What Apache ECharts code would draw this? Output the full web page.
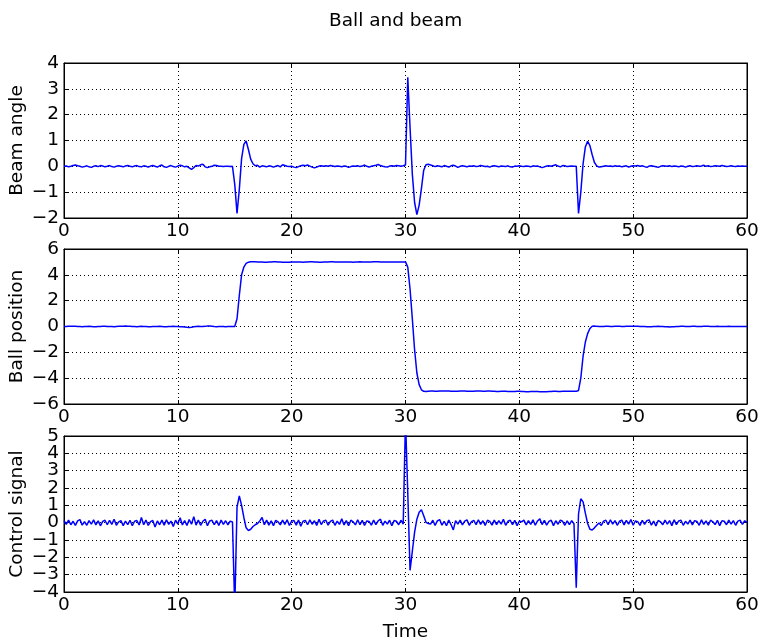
<!DOCTYPE html>
<html>
<head>
<meta charset="utf-8">
<script src="https://cdn.jsdelivr.net/npm/echarts@6/dist/echarts.min.js"></script>
<style>
html,body{margin:0;padding:0;background:#fff;}
#chart{width:760px;height:642px;}
</style>
</head>
<body>
<div id="chart"></div>
<script>
// Sampling step of the recorded signals (seconds)
const timeStep = 0.2;

const chartTitle = "Ball and beam";
const xLabel = "Time";
const yLabels = ["Beam angle", "Ball position", "Control signal"];
const xTicks = [0, 10, 20, 30, 40, 50, 60];
const beamTicks = [-2, -1, 0, 1, 2, 3, 4];
const ballTicks = [-6, -4, -2, 0, 2, 4, 6];
const ctrlTicks = [-4, -3, -2, -1, 0, 1, 2, 3, 4, 5];

// Beam angle, t = 0 .. 60 every 0.2 s
const beamAngle = [
 0.00,0.01,-0.02,0.00,0.03,0.05,0.02,0.00,-0.03,-0.01,
 0.02,-0.02,-0.04,0.00,0.02,-0.01,0.03,0.01,-0.02,0.00,
 0.03,-0.01,-0.03,0.00,0.02,0.00,-0.02,0.01,0.03,0.00,
 -0.02,0.01,0.03,-0.01,-0.02,0.02,0.00,-0.03,0.01,0.03,
 0.00,-0.03,0.02,0.05,-0.02,-0.04,0.00,0.03,-0.01,-0.03,
 0.01,0.04,0.02,-0.02,0.00,-0.06,-0.12,-0.05,0.03,0.01,
 0.06,0.08,-0.02,-0.05,-0.02,0.00,0.04,0.03,0.00,0.00,
 -0.01,0.00,0.00,-0.01,0.00,
 -0.70,-1.82,-0.90,0.30,0.85,0.98,0.65,0.28,0.10,0.02,0.04,
 -0.03,0.02,0.00,-0.02,0.02,0.00,-0.03,0.00,0.03,-0.02,
 0.06,0.03,0.00,-0.01,0.00,-0.03,-0.05,-0.01,0.02,0.04,
 0.02,0.05,0.01,-0.03,-0.06,-0.03,0.01,0.02,0.00,0.02,
 0.00,0.03,0.01,-0.01,0.01,0.00,-0.02,0.01,0.00,-0.04,
 -0.01,0.01,0.00,0.02,-0.01,0.01,0.05,0.00,-0.03,0.00,
 0.02,0.04,0.07,0.03,0.00,-0.02,-0.03,0.01,0.02,0.00,
 0.03,0.02,0.00,0.02,
 0.05,3.45,1.50,-0.30,-1.40,-1.87,-1.50,-0.85,-0.15,0.06,0.08,
 0.05,0.02,-0.01,0.02,0.00,-0.02,0.03,0.00,-0.03,0.02,
 0.04,0.01,-0.04,0.00,0.02,0.00,-0.02,0.01,0.00,0.02,
 -0.01,0.00,0.03,0.01,-0.01,0.00,-0.03,0.01,0.02,0.00,
 -0.02,0.01,0.00,-0.01,0.02,-0.02,-0.03,0.01,0.00,0.02,
 0.00,-0.01,0.01,0.00,-0.02,0.02,0.00,0.01,-0.02,-0.05,
 -0.02,0.01,0.02,0.00,0.03,0.06,0.01,-0.02,0.03,0.02,
 -0.01,0.00,0.01,0.00,
 0.00,-1.82,-1.00,0.10,0.75,0.97,0.80,0.45,0.15,0.02,-0.03,
 -0.02,0.00,0.02,0.00,0.01,-0.01,0.02,0.00,0.01,-0.02,
 0.00,0.02,-0.03,0.00,0.02,0.01,0.03,0.00,0.02,-0.01,
 -0.04,0.01,0.02,0.00,-0.02,-0.04,0.00,0.02,0.01,0.00,
 0.02,-0.01,0.01,0.00,-0.02,0.01,0.00,-0.03,0.00,0.02,
 -0.01,0.00,0.02,0.00,0.01,0.04,0.00,0.02,-0.01,0.00,
 0.02,0.01,0.00,0.03,0.01,-0.01,0.00,0.02,0.00,-0.01,
 0.01,0.00,0.01,0.00,0.00
];

// Ball position, t = 0 .. 60 every 0.2 s
const ballPosition = [
 0.00,0.00,0.01,0.01,0.02,0.01,0.00,0.00,-0.01,0.00,
 0.00,0.01,0.00,-0.01,-0.01,0.00,0.00,0.01,0.01,0.00,
 0.00,0.00,-0.01,0.00,0.01,0.02,0.02,0.03,0.02,0.01,
 0.00,0.00,-0.01,0.00,0.01,0.00,0.00,-0.01,-0.01,0.00,
 0.00,0.00,0.01,0.00,-0.01,-0.01,0.00,0.00,0.01,0.00,
 0.00,-0.01,-0.02,-0.04,-0.06,-0.07,-0.05,-0.02,0.00,0.01,
 0.00,0.00,0.01,0.03,0.04,0.02,0.00,-0.01,0.00,0.00,
 0.00,-0.01,0.00,0.00,0.00,
 0.00,0.60,2.40,4.00,4.60,4.88,4.98,5.01,5.02,5.01,5.00,
 5.00,4.99,4.98,4.98,4.99,5.00,5.01,5.01,5.00,4.99,
 4.98,4.97,4.97,4.98,4.99,5.00,5.00,5.00,4.99,4.98,
 4.99,5.00,5.01,5.01,5.00,4.99,4.98,4.98,4.99,5.00,
 5.00,5.01,5.01,5.00,5.00,4.99,4.99,5.00,5.00,5.00,
 4.99,4.98,4.99,5.00,5.01,5.00,5.00,4.99,4.99,5.00,
 5.01,5.02,5.01,5.00,4.99,4.99,5.00,5.00,5.00,5.00,
 4.99,4.99,5.00,5.00,
 5.00,4.60,2.90,0.60,-1.80,-3.60,-4.50,-4.90,-5.02,-5.03,-5.01,
 -5.00,-5.00,-5.01,-5.01,-5.00,-4.99,-4.99,-5.00,-5.00,-5.01,
 -5.02,-5.02,-5.01,-5.00,-5.00,-5.00,-5.01,-5.02,-5.02,-5.01,
 -5.00,-5.00,-5.00,-5.01,-5.01,-5.00,-5.00,-5.01,-5.02,-5.03,
 -5.03,-5.02,-5.02,-5.02,-5.03,-5.04,-5.04,-5.03,-5.02,-5.02,
 -5.03,-5.04,-5.05,-5.05,-5.04,-5.03,-5.03,-5.04,-5.05,-5.06,
 -5.06,-5.05,-5.04,-5.03,-5.02,-5.02,-5.03,-5.03,-5.02,-5.02,
 -5.02,-5.02,-5.02,-5.01,
 -5.02,-4.95,-4.00,-2.30,-1.20,-0.55,-0.15,0.02,0.03,0.01,0.00,
 0.00,0.00,0.01,0.01,0.00,0.00,0.01,0.01,0.01,0.00,
 0.00,0.01,0.01,0.02,0.02,0.01,0.01,0.00,0.00,0.00,
 -0.01,-0.02,-0.01,0.00,0.00,0.01,0.00,0.00,-0.01,-0.02,
 -0.03,-0.02,-0.01,0.00,0.00,0.01,0.01,0.00,0.00,0.00,
 0.01,0.01,0.00,0.00,0.00,0.01,0.01,0.01,0.00,0.00,
 0.00,0.01,0.00,0.00,0.00,0.00,0.01,0.00,0.00,0.00,
 0.00,0.00,0.00,0.00,0.00
];

// Control signal, t = 0 .. 60 every 0.2 s (spikes run past the axis limits)
const controlSignal = [
 0.12,-0.10,0.15,-0.12,0.08,-0.16,0.10,0.18,-0.14,0.06,
 -0.15,0.12,-0.09,0.16,-0.13,0.10,-0.18,0.07,0.14,-0.12,
 0.13,-0.10,0.20,-0.15,0.05,0.12,-0.17,0.09,-0.11,0.14,
 -0.18,0.08,0.12,-0.13,0.30,-0.12,0.15,-0.16,0.06,0.13,
 -0.25,0.10,-0.12,0.15,-0.14,0.17,-0.10,0.09,-0.22,0.14,
 -0.08,0.28,-0.13,0.12,-0.16,0.18,-0.09,0.35,-0.14,0.15,
 -0.15,0.08,0.20,-0.18,0.10,0.14,-0.12,0.12,-0.16,0.15,
 -0.10,0.11,-0.13,0.09,0.04,
 -5.00,0.90,1.55,1.00,0.30,-0.30,-0.45,-0.38,-0.22,-0.12,-0.05,
 0.10,0.30,-0.12,0.15,-0.14,0.10,-0.17,0.13,0.05,-0.13,
 0.15,-0.10,0.17,-0.16,0.09,0.12,-0.14,0.15,-0.20,0.08,
 0.13,-0.12,0.16,-0.09,0.11,-0.16,0.19,-0.11,0.10,0.14,
 -0.14,0.07,0.15,-0.15,0.09,-0.10,0.22,-0.13,0.12,-0.17,
 0.14,0.05,-0.13,0.17,-0.12,0.13,-0.16,0.10,0.07,-0.14,
 0.15,-0.11,0.11,0.20,-0.15,0.09,-0.08,0.14,-0.18,0.12,
 0.08,-0.12,0.14,-0.08,
 6.00,1.70,-2.75,-1.65,-0.55,0.20,0.60,0.75,0.40,0.02,-0.05,
 -0.08,0.14,-0.16,0.10,0.18,-0.14,0.08,-0.18,0.15,-0.11,
 -0.42,0.12,-0.09,0.15,-0.13,0.09,0.16,-0.15,0.06,0.13,
 -0.12,0.17,-0.10,0.11,-0.16,0.14,0.07,-0.14,0.15,-0.11,
 0.12,-0.08,0.19,-0.15,0.08,0.14,-0.12,0.13,-0.18,0.09,
 0.05,0.15,-0.13,0.12,-0.10,0.16,-0.15,0.10,0.22,-0.11,
 0.13,-0.14,0.07,0.14,-0.17,0.11,-0.09,0.14,0.08,-0.15,
 0.10,-0.11,0.12,-0.06,
 -3.75,0.50,1.38,1.20,0.55,-0.05,-0.38,-0.42,-0.30,-0.15,-0.02,
 -0.16,0.09,0.14,-0.12,0.17,-0.09,0.12,-0.15,0.08,0.15,
 -0.13,0.13,-0.08,0.18,-0.15,0.10,0.06,-0.16,0.14,-0.10,
 0.11,0.16,-0.14,0.09,-0.19,0.13,0.05,-0.12,0.15,-0.09,
 0.12,-0.17,0.17,-0.11,0.10,0.14,-0.15,0.08,-0.08,0.15,
 -0.13,0.12,0.07,-0.15,0.16,-0.10,0.10,-0.14,0.14,0.05,
 -0.11,0.13,-0.18,0.11,0.08,-0.12,0.15,-0.09,0.12,-0.15,
 0.09,0.14,-0.10,0.11,0.02
];

const FONT = "DejaVu Sans";
const FS = 18.5;
const minus = v => (v < 0 ? "\u2212" + Math.abs(v) : String(v));
const toPairs = arr => arr.map((v, i) => [+(i * timeStep).toFixed(2), v]);

const grids = [
  { left: 64, width: 683, top: 63, height: 155 },
  { left: 64, width: 683, top: 249, height: 155 },
  { left: 64, width: 683, top: 436, height: 156 }
];
const yRanges = [beamTicks, ballTicks, ctrlTicks];
const seriesData = [beamAngle, ballPosition, controlSignal];

const labelStyle = { color: "#000", fontFamily: FONT, fontSize: FS };
const xAxes = [], yAxes = [], series = [];
grids.forEach((g, k) => {
  const common = {
    type: "value", gridIndex: k,
    axisLine: { show: true, onZero: false, lineStyle: { color: "#000", width: 1 } },
    axisTick: { show: true, inside: true, length: 4, lineStyle: { color: "#000" } }
  };
  const xIdx = xAxes.length;
  xAxes.push(Object.assign({}, common, {
    position: "bottom",
    min: xTicks[0], max: xTicks[xTicks.length - 1], interval: 10,
    axisLabel: Object.assign({ show: true, hideOverlap: false, margin: 4, formatter: minus }, labelStyle),
    splitLine: { show: true, lineStyle: { color: "#000", width: 1, type: [1, 3] } },
    name: k === 2 ? xLabel : "", nameLocation: "middle", nameGap: 31, nameMoveOverlap: false,
    nameTextStyle: labelStyle
  }));
  xAxes.push(Object.assign({}, common, {
    position: "top",
    min: xTicks[0], max: xTicks[xTicks.length - 1], interval: 10,
    axisLabel: { show: false }, splitLine: { show: false }
  }));
  const yt = yRanges[k];
  const step = yt[1] - yt[0];
  // tick labels split over two coincident left axes so that none get dropped
  const evenVals = yt.filter((v, i) => i % 2 === 0);
  const oddVals = yt.filter((v, i) => i % 2 === 1);
  const yIdx = yAxes.length;
  yAxes.push(Object.assign({}, common, {
    position: "left",
    min: yt[0], max: yt[yt.length - 1], interval: step,
    axisLabel: Object.assign({ show: true, hideOverlap: false, margin: 5, formatter: minus, customValues: evenVals }, labelStyle),
    splitLine: { show: true, lineStyle: { color: "#000", width: 1, type: [1, 3] } },
    name: yLabels[k], nameLocation: "middle", nameGap: 37, nameRotate: 90, nameMoveOverlap: false,
    nameTextStyle: labelStyle
  }));
  yAxes.push({
    type: "value", gridIndex: k, position: "left", offset: 0,
    min: yt[0], max: yt[yt.length - 1], interval: step,
    axisLine: { show: false }, axisTick: { show: false }, splitLine: { show: false },
    axisLabel: Object.assign({ show: true, hideOverlap: false, margin: 5, formatter: minus, customValues: oddVals }, labelStyle)
  });
  yAxes.push(Object.assign({}, common, {
    position: "right",
    min: yt[0], max: yt[yt.length - 1], interval: step,
    axisLabel: { show: false }, splitLine: { show: false }
  }));
  series.push({
    type: "line",
    xAxisIndex: xIdx, yAxisIndex: yIdx,
    data: toPairs(seriesData[k]),
    showSymbol: false, symbol: "none", clip: true, sampling: null,
    lineStyle: { color: "#0000ff", width: 1.5 },
    animation: false, silent: true
  });
});

const chart = echarts.init(document.getElementById("chart"), null, { renderer: "canvas" });
chart.setOption({
  animation: false,
  backgroundColor: "#ffffff",
  title: {
    text: chartTitle, left: 324, top: 7,
    textStyle: { color: "#000", fontFamily: FONT, fontSize: FS, fontWeight: "normal" }
  },
  grid: grids.map(g => Object.assign({ show: true, borderColor: "#000", borderWidth: 1, backgroundColor: "#fff", containLabel: false, outerBoundsMode: "none" }, g)),
  xAxis: xAxes,
  yAxis: yAxes,
  series: series
});
</script>
</body>
</html>
